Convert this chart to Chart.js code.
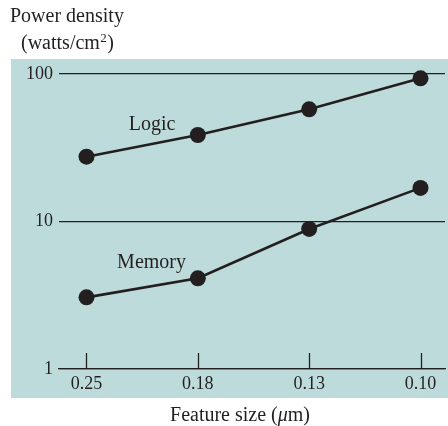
<!DOCTYPE html>
<html>
<head>
<meta charset="utf-8">
<script src="https://cdn.jsdelivr.net/npm/chart.js@4"></script>
<style>
html,body{margin:0;padding:0;background:#ffffff;}
#wrap{width:448px;height:426px;position:relative;}
</style>
</head>
<body>
<div id="wrap"><canvas id="c" width="448" height="426"></canvas></div>
<script>
const categories = ['0.25', '0.18', '0.13', '0.10'];
const logicValues = [27.5, 38.6, 57.6, 93.5];
const memoryValues = [3.06, 4.12, 8.9, 16.9];
const yTickValues = [1, 10, 100];
const seriesNames = ['Logic', 'Memory'];
const labelAnchors = [{x: 0.38, y: 41.7}, {x: 0.275, y: 4.84}];

const INK = '#231f20';
const PANEL = '#bedbdb';
const SERIF = '"Liberation Serif", "Times New Roman", serif';

const decor = {
  id: 'decor',
  beforeDraw(chart) {
    const {ctx, chartArea: a, width} = chart;
    ctx.save();
    ctx.fillStyle = PANEL;
    ctx.fillRect(a.left - 48, a.top - 15, width - (a.left - 48), (a.bottom + 29) - (a.top - 15));
    ctx.restore();
  },
  afterDatasetsDraw(chart) {
    const {ctx, chartArea: a, scales} = chart;
    const xs = scales.x, ys = scales.y;
    ctx.save();
    ctx.strokeStyle = INK;
    ctx.lineWidth = 1.3;
    categories.forEach((c, i) => {
      const px = Math.round(xs.getPixelForValue(i)) + 0.5;
      ctx.beginPath();
      ctx.moveTo(px, a.bottom);
      ctx.lineTo(px, a.bottom - 16);
      ctx.stroke();
    });
    ctx.fillStyle = INK;
    ctx.font = '20px ' + SERIF;
    ctx.textBaseline = 'alphabetic';
    ctx.textAlign = 'left';
    seriesNames.forEach((n, i) => {
      ctx.fillText(n, xs.getPixelForValue(labelAnchors[i].x), ys.getPixelForValue(labelAnchors[i].y));
    });
    ctx.font = '20px ' + SERIF;
    ctx.fillText('Power density', 10, 22);
    let x = 21;
    const t1 = '(watts/cm';
    ctx.fillText(t1, x, 49);
    x += ctx.measureText(t1).width;
    ctx.font = '13px ' + SERIF;
    ctx.fillText('2', x + 0.5, 42);
    x += ctx.measureText('2').width + 1;
    ctx.font = '20px ' + SERIF;
    ctx.fillText(')', x, 49);
    const p1 = 'Feature size (', p2 = 'μ', p3 = 'm)';
    ctx.font = '20px ' + SERIF;
    const w1 = ctx.measureText(p1).width, w3 = ctx.measureText(p3).width;
    ctx.font = 'italic 20px ' + SERIF;
    const w2 = ctx.measureText(p2).width;
    let sx = 240 - (w1 + w2 + w3) / 2;
    ctx.font = '20px ' + SERIF;
    ctx.fillText(p1, sx, 421);
    ctx.font = 'italic 20px ' + SERIF;
    ctx.fillText(p2, sx + w1, 421);
    ctx.font = '20px ' + SERIF;
    ctx.fillText(p3, sx + w1 + w2, 421);
    ctx.restore();
  }
};

const mkData = arr => arr.map((v, i) => ({x: i, y: v}));
const dsStyle = {
  borderColor: INK,
  backgroundColor: INK,
  borderWidth: 2.6,
  pointRadius: 8,
  pointBorderWidth: 0,
  pointBackgroundColor: INK,
  tension: 0,
  clip: false
};

new Chart(document.getElementById('c'), {
  type: 'line',
  data: {
    datasets: [
      Object.assign({label: seriesNames[0], data: mkData(logicValues)}, dsStyle),
      Object.assign({label: seriesNames[1], data: mkData(memoryValues)}, dsStyle)
    ]
  },
  options: {
    responsive: false,
    animation: false,
    devicePixelRatio: 1,
    layout: {autoPadding: false, padding: {top: 74, right: 3, left: 0, bottom: 0}},
    plugins: {legend: {display: false}, tooltip: {enabled: false}},
    scales: {
      x: {
        type: 'linear',
        min: -0.247,
        max: 3.22,
        afterBuildTicks: s => { s.ticks = categories.map((c, i) => ({value: i})); },
        afterFit: s => { s.height = 57; },
        ticks: {
          callback: v => categories[v],
          color: INK,
          font: {family: SERIF, size: 18},
          padding: 4,
          maxRotation: 0,
          autoSkip: false
        },
        grid: {display: false, drawTicks: false},
        border: {display: true, color: INK, width: 1.3}
      },
      y: {
        type: 'logarithmic',
        min: 1,
        max: 100,
        afterBuildTicks: s => { s.ticks = yTickValues.map(v => ({value: v})); },
        afterFit: s => { s.width = 59; },
        ticks: {
          callback: v => String(v),
          color: INK,
          font: {family: SERIF, size: 18},
          padding: 6,
          autoSkip: false
        },
        grid: {display: true, color: INK, lineWidth: 1.2, drawTicks: false},
        border: {display: false}
      }
    }
  },
  plugins: [decor]
});
</script>
</body>
</html>
